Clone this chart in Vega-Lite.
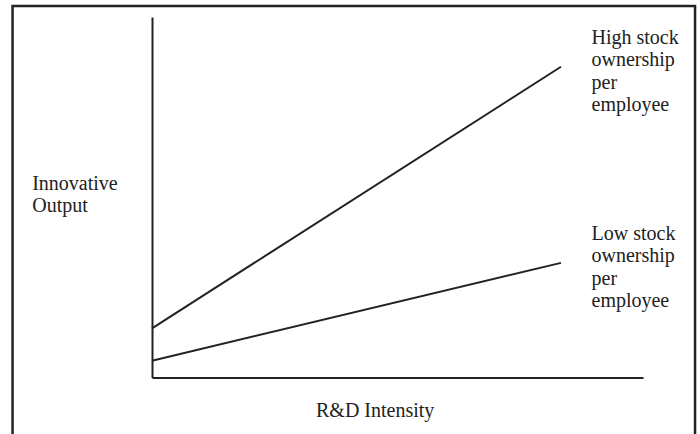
{
  "$schema": "https://vega.github.io/schema/vega-lite/v6.json",
  "width": 491,
  "height": 360.5,
  "autosize": {"type": "none"},
  "padding": {"left": 152, "top": 17, "right": 57, "bottom": 56.5},
  "background": "white",
  "config": {
    "view": {"stroke": null},
    "font": "Liberation Serif",
    "axis": {
      "grid": false,
      "ticks": false,
      "labels": false,
      "domainColor": "#222222",
      "domainWidth": 2,
      "titleFont": "Liberation Serif",
      "titleFontSize": 20,
      "titleFontWeight": "normal",
      "titleColor": "#222222",
      "titleLineHeight": 22.5,
      "titleBaseline": "alphabetic"
    }
  },
  "datasets": {
    "lines": [
      {"series": "High", "x": 0, "y": 1.365, "label": ""},
      {"series": "High", "x": 8.33, "y": 8.62, "label": "High stock\nownership\nper\nemployee"},
      {"series": "Low", "x": 0, "y": 0.466, "label": ""},
      {"series": "Low", "x": 8.33, "y": 3.18, "label": "Low stock\nownership\nper\nemployee"}
    ],
    "frame": [
      {"x": -2.84, "x2": 11.06, "y": -1.62, "y2": 10.305}
    ]
  },
  "encoding": {
    "x": {
      "field": "x", "type": "quantitative",
      "scale": {"domain": [0, 10], "nice": false, "zero": false},
      "axis": {"title": "R&D Intensity", "titleX": 222.7, "titleY": 39.2, "titleAlign": "center"}
    },
    "y": {
      "field": "y", "type": "quantitative",
      "scale": {"domain": [0, 10], "nice": false, "zero": false},
      "axis": {"title": ["Innovative", "Output"], "titleAngle": 0, "titleAlign": "left", "titleX": -120.3, "titleY": 172.3}
    }
  },
  "layer": [
    {
      "data": {"name": "frame"},
      "mark": {"type": "rect", "fill": null, "stroke": "#222222", "strokeWidth": 2.5, "clip": false},
      "encoding": {
        "x2": {"field": "x2"},
        "y2": {"field": "y2"}
      }
    },
    {
      "data": {"name": "lines"},
      "mark": {"type": "line", "color": "#222222", "strokeWidth": 2},
      "encoding": {
        "detail": {"field": "series"}
      }
    },
    {
      "data": {"name": "lines"},
      "transform": [{"filter": "datum.x > 0"}],
      "mark": {"type": "text", "align": "left", "baseline": "alphabetic", "dx": 30.5, "dy": -23, "lineBreak": "\n", "lineHeight": 22.5, "fontSize": 20, "font": "Liberation Serif", "color": "#222222"},
      "encoding": {
        "text": {"field": "label"}
      }
    }
  ]
}
